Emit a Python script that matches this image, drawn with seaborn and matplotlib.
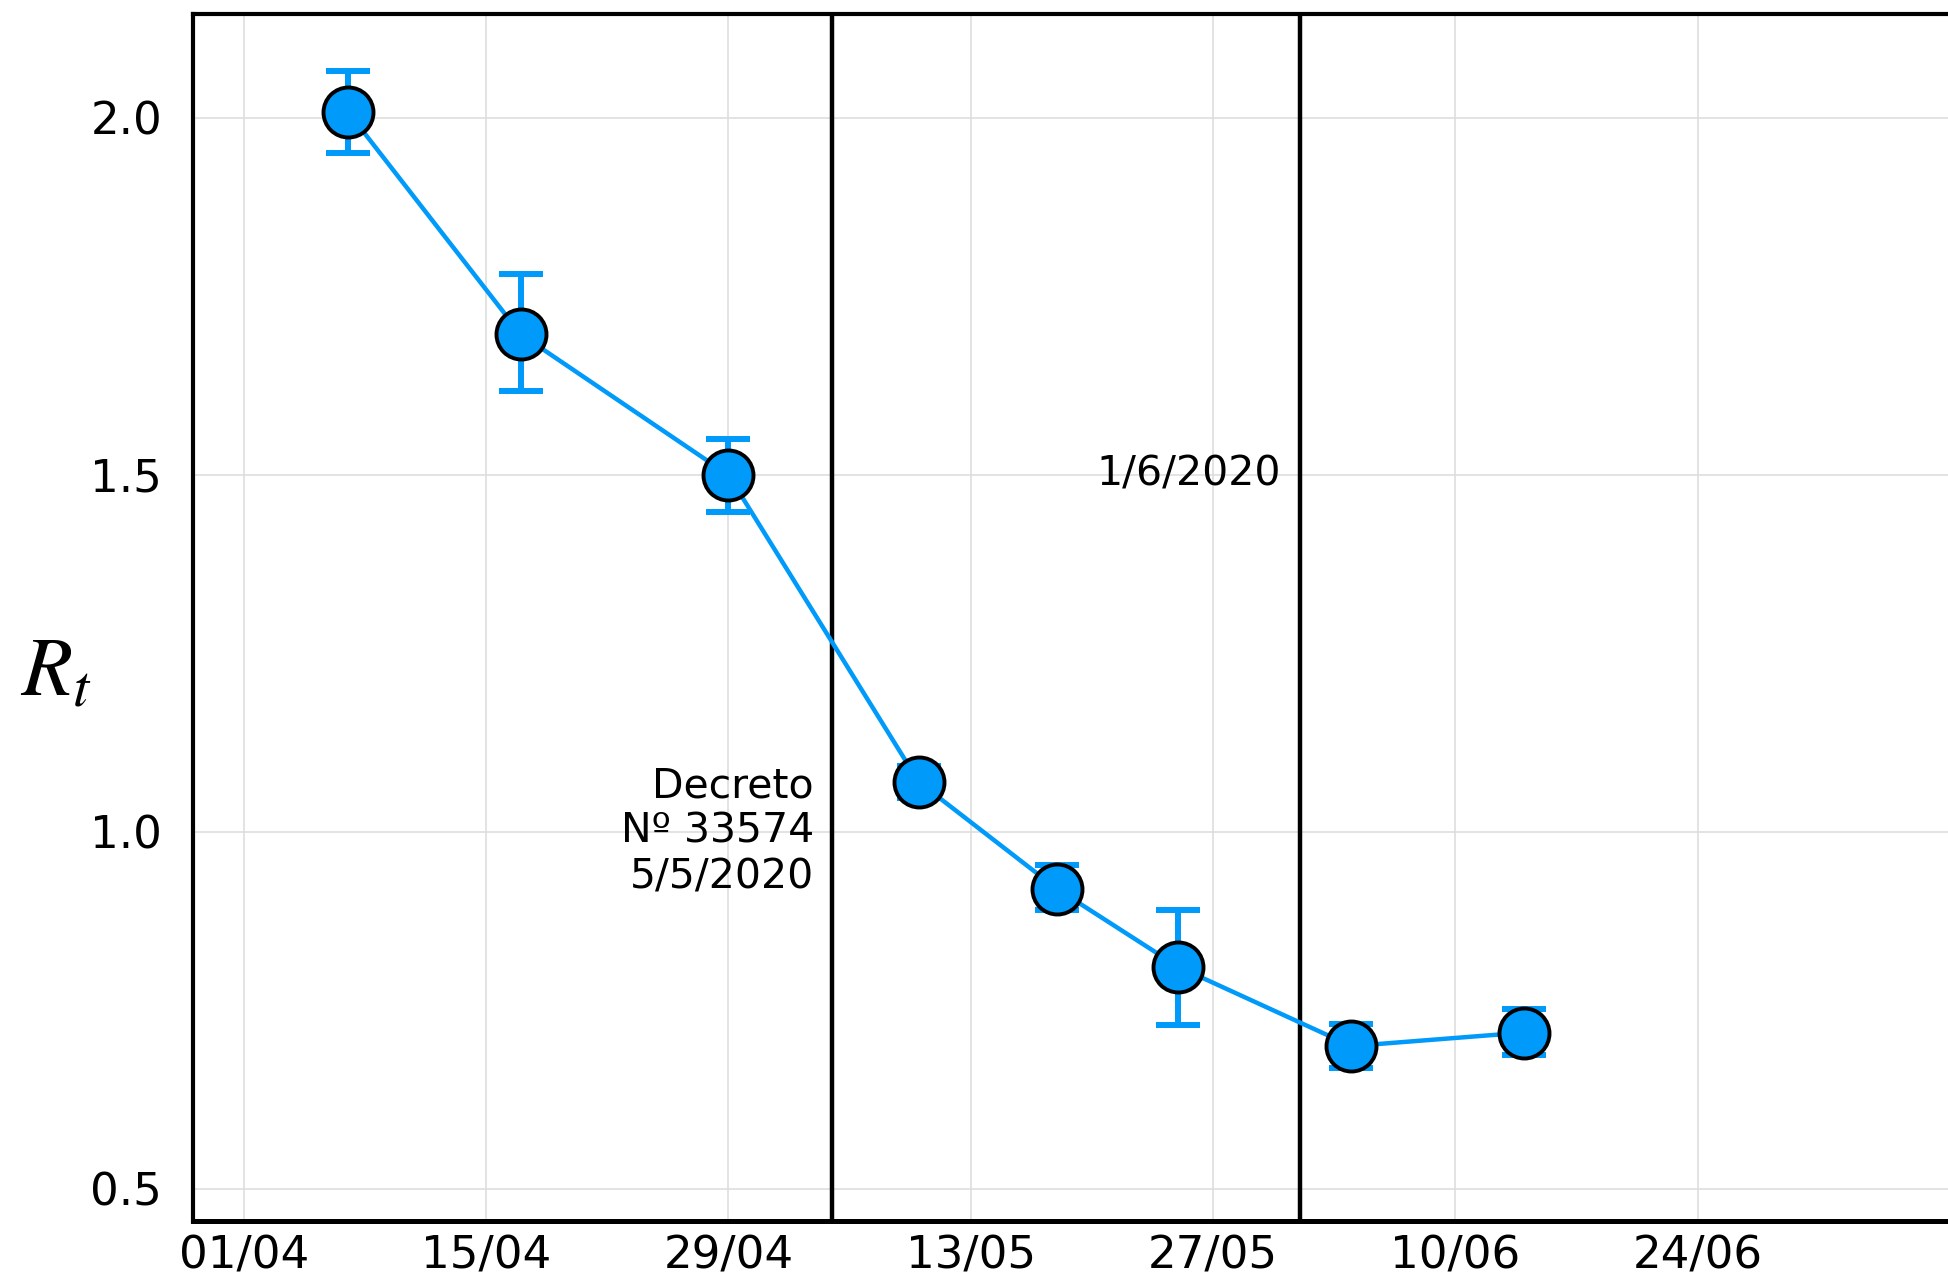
import numpy as np
import pandas as pd
import matplotlib
matplotlib.use('Agg')
import matplotlib.pyplot as plt
import matplotlib.dates as mdates
import seaborn as sns

# Rt estimates
dates = ['2020-04-07', '2020-04-17', '2020-04-29', '2020-05-10',
         '2020-05-18', '2020-05-25', '2020-06-04', '2020-06-14']
rt = [2.009, 1.697, 1.500, 1.070, 0.920, 0.811, 0.700, 0.719]
rt_low = [1.951, 1.617, 1.448, 1.047, 0.890, 0.730, 0.669, 0.688]
rt_high = [2.066, 1.781, 1.550, 1.092, 0.953, 0.890, 0.731, 0.752]

tick_dates = ['2020-04-01', '2020-04-15', '2020-04-29', '2020-05-13',
              '2020-05-27', '2020-06-10', '2020-06-24']
y_ticks = [0.5, 1.0, 1.5, 2.0]

event_dates = ['2020-05-05', '2020-06-01']
event_labels = ['Decreto\nNº 33574\n5/5/2020', '1/6/2020']
event_label_y = [1.0, 1.5]

blue = '#009AFA'

df = pd.DataFrame({'date': pd.to_datetime(dates), 'rt': rt,
                   'low': rt_low, 'high': rt_high})

sns.set_style('whitegrid')
plt.rcParams['font.family'] = ['DejaVu Sans']
plt.rcParams['mathtext.fontset'] = 'stix'

fig = plt.figure(figsize=(19.48, 12.85), dpi=100)
ax = fig.add_axes([0.099, 0.0498, 0.903, 0.9395])

for d in event_dates:
    ax.axvline(pd.to_datetime(d), color='black', lw=3.2, zorder=2)

yerr = np.array([df['rt'] - df['low'], df['high'] - df['rt']])
ax.errorbar(df['date'], df['rt'], yerr=yerr, fmt='none', ecolor=blue,
            elinewidth=4.3, capsize=16, capthick=4.3, zorder=3)
sns.lineplot(data=df, x='date', y='rt', ax=ax, color=blue, lw=3.2,
             marker='o', markersize=36, markerfacecolor=blue,
             markeredgecolor='black', markeredgewidth=2.8, zorder=4)

for d, lab, y in zip(event_dates, event_labels, event_label_y):
    x = pd.to_datetime(d) - pd.Timedelta(days=1.05)
    ax.text(x, y, lab, ha='right', va='center', fontsize=29.5,
            linespacing=1.17, color='black', zorder=5)

ax.set_xlim(pd.to_datetime('2020-03-29') + pd.Timedelta(days=0.05),
            pd.to_datetime('2020-04-01') + pd.Timedelta(days=98.7))
ax.set_ylim(0.455, 2.146)
ax.set_xticks(pd.to_datetime(tick_dates))
ax.xaxis.set_major_formatter(mdates.DateFormatter('%d/%m'))
ax.set_yticks(y_ticks)
ax.set_yticklabels([f'{v:.1f}' for v in y_ticks])
ax.tick_params(axis='both', labelsize=32.5, direction='in', length=8,
               width=1, color='black', labelcolor='black', pad=10)
ax.tick_params(axis='y', pad=22)

ax.set_xlabel('')
ax.set_ylabel('$R_t$', fontsize=60, rotation=0, color='black', va='center')
ax.yaxis.set_label_coords(-0.078, 0.455)

ax.grid(True, color='#dedede', lw=1.2)
for side in ['left', 'bottom', 'top']:
    ax.spines[side].set_visible(True)
    ax.spines[side].set_color('black')
ax.spines['left'].set_linewidth(3.0)
ax.spines['bottom'].set_linewidth(3.6)
ax.spines['top'].set_linewidth(3.0)
ax.spines['right'].set_visible(False)
ax.set_facecolor('white')

fig.savefig('out.png', dpi=100, facecolor='white')
